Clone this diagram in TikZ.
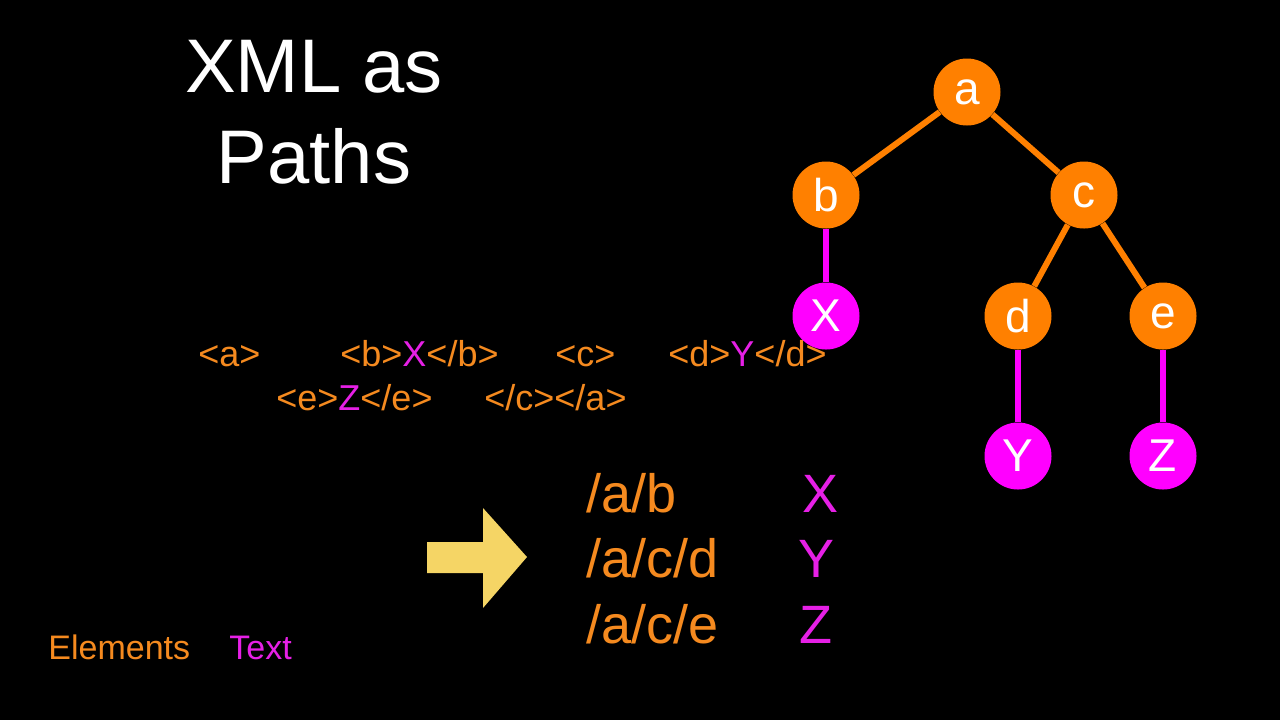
\documentclass[tikz,border=0pt]{standalone}
\usepackage{fontspec}
\setmainfont{Liberation Sans}
\definecolor{elemorange}{HTML}{FF8000}
\definecolor{tagorange}{HTML}{F58A1F}
\definecolor{leafmagenta}{HTML}{FF00FF}
\definecolor{txtmagenta}{HTML}{E620E6}
\definecolor{arrowyellow}{HTML}{F5D565}

\begin{document}
\begin{tikzpicture}[
x=0.5pt,y=-0.5pt,
elem/.style={circle,fill=elemorange,text=white,minimum size=33.5pt,inner sep=0pt,font=\fontsize{23}{23}\selectfont},
leaf/.style={elem,fill=leafmagenta},
elemedge/.style={draw=elemorange,line width=3pt},
leafedge/.style={draw=leafmagenta,line width=2.7pt},
heading/.style={anchor=base,inner sep=0pt,text=white,font=\fontsize{38}{38}\selectfont},
tag/.style={anchor=base west,inner sep=0pt,text=tagorange,font=\fontsize{18}{18}\selectfont},
pathline/.style={anchor=base west,inner sep=0pt,text=tagorange,font=\fontsize{27}{27}\selectfont},
pathval/.style={anchor=base,inner sep=0pt,text=txtmagenta,font=\fontsize{27}{27}\selectfont},
legend/.style={anchor=base west,inner sep=0pt,font=\fontsize{17}{17}\selectfont}
]
\fill[black] (0,0) rectangle (1280,720);

% title
\node[heading] (head1) at (314,92) {XML as};
\node[heading] (head2) at (314,183) {Paths};

% the document
\node[tag] (ta) at (198,366) {<a>};
\node[tag] (tb) at (340,366) {<b>\textcolor{txtmagenta}{X}</b>};
\node[tag] (tc) at (555,366) {<c>};
\node[tag] (td) at (668,366) {<d>\textcolor{txtmagenta}{Y}</d>};
\node[tag] (te) at (276,410) {<e>\textcolor{txtmagenta}{Z}</e>};
\node[tag] (tend) at (484,410) {</c></a>};

% arrow
\fill[arrowyellow] (427,542) -- (483,542) -- (483,508) -- (527,557)
  -- (483,608) -- (483,573) -- (427,573) -- cycle;

% paths
\node[pathline] (pb) at (586,512) {/a/b};
\node[pathline] (pd) at (586,577) {/a/c/d};
\node[pathline] (pe) at (586,643) {/a/c/e};
\node[pathval] (vx) at (820,512) {X};
\node[pathval] (vy) at (817,577) {Y};
\node[pathval] (vz) at (816,643) {Z};

% legend
\node[legend,text=tagorange] (lelem) at (48,659) {Elements};
\node[legend,text=txtmagenta] (ltext) at (229,659) {Text};

% tree
\node[elem] (a) at (967,92) {a};
\node[elem] (b) at (826,195) {b};
\node[elem] (c) at (1084,195) {c};
\node[leaf] (x) at (826,316) {X};
\node[elem] (d) at (1018,316) {d};
\node[elem] (e) at (1163,316) {e};
\node[leaf] (y) at (1018,456) {Y};
\node[leaf] (z) at (1163,456) {Z};
\draw[elemedge] (a) -- (b);
\draw[elemedge] (a) -- (c);
\draw[elemedge] (c) -- (d);
\draw[elemedge] (c) -- (e);
\draw[leafedge] (b) -- (x);
\draw[leafedge] (d) -- (y);
\draw[leafedge] (e) -- (z);
\end{tikzpicture}
\end{document}
